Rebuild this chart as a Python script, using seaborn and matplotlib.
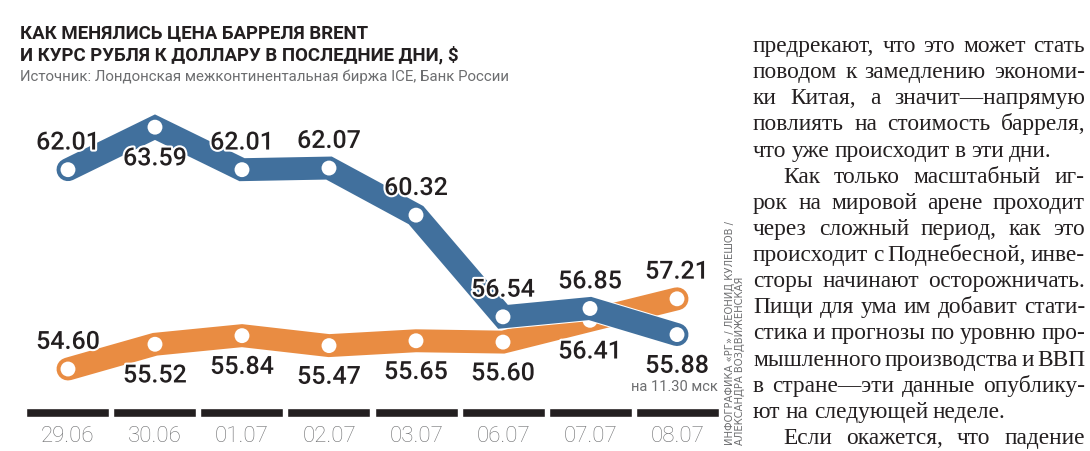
import matplotlib
matplotlib.use('Agg')
import matplotlib.pyplot as plt
import matplotlib.patheffects as pe
import seaborn as sns
import pandas as pd

# data
dates = ['29.06', '30.06', '01.07', '02.07', '03.07', '06.07', '07.07', '08.07']
brent = [62.01, 63.59, 62.01, 62.07, 60.32, 56.54, 56.85, 55.88]
usd = [54.60, 55.52, 55.84, 55.47, 55.65, 55.60, 56.41, 57.21]
# label above (+1) or below (-1) the point
brent_side = [1, -1, 1, 1, 1, 1, 1, -1]
usd_side = [1, -1, -1, -1, -1, -1, -1, 1]

title = ['КАК МЕНЯЛИСЬ ЦЕНА БАРРЕЛЯ BRENT', 'И КУРС РУБЛЯ К ДОЛЛАРУ В ПОСЛЕДНИЕ ДНИ, $']
source = 'Источник: Лондонская межконтинентальная биржа ICE, Банк России'
note = 'на 11.30 мск'
credit = ['ИНФОГРАФИКА «РГ» / ЛЕОНИД КУЛЕШОВ /', 'АЛЕКСАНДРА ВОЗДВИЖЕНСКАЯ']
# neighbouring newspaper column: (text, indented, justified)
column = [
    ('предрекают, что это может стать', False, True),
    ('поводом к замедлению экономи-', False, True),
    ('ки Китая, а значит—напрямую', False, True),
    ('повлиять на стоимость барреля,', False, True),
    ('что уже происходит в эти дни.', False, False),
    ('Как только масштабный иг-', True, True),
    ('рок на мировой арене проходит', False, True),
    ('через сложный период, как это', False, True),
    ('происходит с Поднебесной, инве-', False, True),
    ('сторы начинают осторожничать.', False, True),
    ('Пищи для ума им добавит стати-', False, True),
    ('стика и прогнозы по уровню про-', False, True),
    ('мышленного производства и ВВП', False, True),
    ('в стране—эти данные опублику-', False, True),
    ('ют на следующей неделе.', False, False),
    ('Если окажется, что падение', True, True),
]

BLUE = '#41709d'
ORANGE = '#e98c42'
DARK = '#231f20'
GRAY = '#6d6e70'

sns.set_style('white')
plt.rcParams['font.family'] = ['Roboto', 'DejaVu Sans']

W, H = 1090, 451
fig = plt.figure(figsize=(W / 100, H / 100), dpi=100)


def rect(x0, y0, x1, y1):
    return [x0 / W, 1 - y1 / H, (x1 - x0) / W, (y1 - y0) / H]


def fy(py):
    return 1 - py / H


xlim = (-0.494, 7.494)
ylim = (53.448, 64.60)
ax = fig.add_axes(rect(25, 100, 720, 400))

df = pd.DataFrame({'pos': range(len(dates)), 'brent': brent, 'usd': usd})

for col, color, z in [('usd', ORANGE, 2), ('brent', BLUE, 4)]:
    sns.lineplot(data=df, x='pos', y=col, ax=ax, color=color, linewidth=16.5,
                 solid_capstyle='round', solid_joinstyle='miter', zorder=z,
                 path_effects=[pe.Stroke(linewidth=18, foreground='white'), pe.Normal()])
    sns.scatterplot(data=df, x='pos', y=col, ax=ax, color='white', s=115,
                    edgecolor='none', zorder=z + 0.5)
ax.set_xlim(xlim)
ax.set_ylim(ylim)
ax.axis('off')

halo = [pe.withStroke(linewidth=3, foreground='white')]
for values, sides in [(brent, brent_side), (usd, usd_side)]:
    for i, (v, s) in enumerate(zip(values, sides)):
        dy = 14.5 if s > 0 else -27.5
        ax.annotate(f'{v:.2f}', (i, v), xytext=(0, dy), textcoords='offset points',
                    ha='center', va='baseline', fontsize=18, fontweight='medium',
                    color=DARK, zorder=6, path_effects=halo)

ax.text(7.47, ylim[0] + (400 - 387) / 26.9, note, ha='right', va='center',
        fontsize=10.5, color=GRAY)

# date strip
bar_ax = fig.add_axes(rect(25, 408, 720, 417))
sns.barplot(x=list(range(len(dates))), y=[1] * len(dates), ax=bar_ax, color=DARK,
            saturation=1, width=0.954, native_scale=True)
bar_ax.set_xlim(xlim)
bar_ax.set_ylim(0, 1)
bar_ax.set_xticks(range(len(dates)), dates)
bar_ax.set_yticks([])
bar_ax.set_ylabel('')
bar_ax.tick_params(axis='x', length=0, pad=6.5, labelsize=16, labelcolor=GRAY)
for lbl in bar_ax.get_xticklabels():
    lbl.set_fontweight('light')
sns.despine(ax=bar_ax, left=True, bottom=True)

# headings
fig.text(20 / W, fy(38), title[0], fontsize=13.4, fontweight='bold', color=DARK)
fig.text(20 / W, fy(60), title[1], fontsize=13.4, fontweight='bold', color=DARK)
fig.text(20 / W, fy(81), source, fontsize=10.8, color=GRAY)

# vertical credit
for x, line in zip([730, 740], credit):
    fig.text(x / W, fy(445), line, rotation=90, fontsize=7.2, color=GRAY,
             ha='center', va='bottom', family='DejaVu Sans')

# neighbouring text column, justified word by word
renderer = fig.canvas.get_renderer()
right = 1085
for i, (line, indent, justify) in enumerate(column):
    left = 783 if indent else 753
    y = fy(52 + 26.13 * i)
    words = line.split(' ')
    items = [fig.text(0, y, w, fontsize=16.8, color=DARK,
                      family=['Liberation Serif', 'DejaVu Serif']) for w in words]
    widths = [t.get_window_extent(renderer).width for t in items]
    space = items[0].get_fontsize() * 0.22 * 100 / 72
    if justify and len(words) > 1:
        space = max((right - left - sum(widths)) / (len(words) - 1), 2)
    x = left
    for t, w in zip(items, widths):
        t.set_x(x / W)
        x += w + space

fig.savefig('out.png', dpi=100)
